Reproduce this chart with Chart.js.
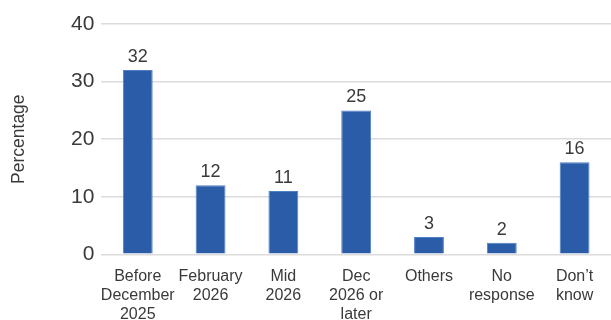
<!DOCTYPE html>
<html>
<head>
<meta charset="utf-8">
<script src="https://cdn.jsdelivr.net/npm/chart.js@4"></script>
<style>
  html, body { margin: 0; padding: 0; background: #fff; }
  #wrap { width: 611px; height: 320px; }
</style>
</head>
<body>
<div id="wrap"><canvas id="timingChart"></canvas></div>
<script>
const categories = [
    ["Before", "December", "2025"],
    ["February", "2026"],
    ["Mid", "2026"],
    ["Dec", "2026 or", "later"],
    ["Others"],
    ["No", "response"],
    ["Don\u2019t", "know"]
];
const percentages = [32, 12, 11, 25, 3, 2, 16];
const yTicks = [0, 10, 20, 30, 40];

const FONT = "'Liberation Sans', Arial, sans-serif";

// draws the number above each bar
const valueLabels = {
    id: "valueLabels",
    afterDatasetsDraw(chart) {
        const ctx = chart.ctx;
        const meta = chart.getDatasetMeta(0);
        ctx.save();
        ctx.font = "18px " + FONT;
        ctx.fillStyle = "#3a3a3a";
        ctx.textAlign = "center";
        ctx.textBaseline = "bottom";
        meta.data.forEach((bar, i) => {
            ctx.fillText(percentages[i], bar.x, bar.y - 4);
        });
        ctx.restore();
    }
};

new Chart(document.getElementById("timingChart"), {
    type: "bar",
    data: {
        labels: categories,
        datasets: [{
            data: percentages,
            backgroundColor: "#2a5ca8",
            borderColor: "#4f7fc4",
            borderWidth: 1,
            categoryPercentage: 1,
            barPercentage: 0.41
        }]
    },
    options: {
        responsive: true,
        maintainAspectRatio: false,
        animation: false,
        layout: { padding: { top: 24, right: 0, left: 9, bottom: -9 } },
        plugins: {
            legend: { display: false },
            tooltip: { enabled: false }
        },
        scales: {
            x: {
                grid: { display: false },
                border: { display: false },
                ticks: {
                    color: "#3a3a3a",
                    font: { family: FONT, size: 16, lineHeight: 1.18 },
                    maxRotation: 0,
                    autoSkip: false,
                    padding: 5
                }
            },
            y: {
                min: 0,
                max: 40,
                afterBuildTicks(axis) {
                    axis.ticks = yTicks.map(v => ({ value: v }));
                },
                grid: { color: "#dcdcdc", lineWidth: 1.5, drawTicks: false },
                border: { display: false },
                ticks: {
                    color: "#3a3a3a",
                    font: { family: FONT, size: 21 },
                    padding: 7
                },
                title: {
                    display: true,
                    text: "Percentage",
                    color: "#3a3a3a",
                    font: { family: FONT, size: 17.5 },
                    padding: { top: 0, bottom: 34 }
                }
            }
        }
    },
    plugins: [valueLabels]
});
</script>
</body>
</html>
